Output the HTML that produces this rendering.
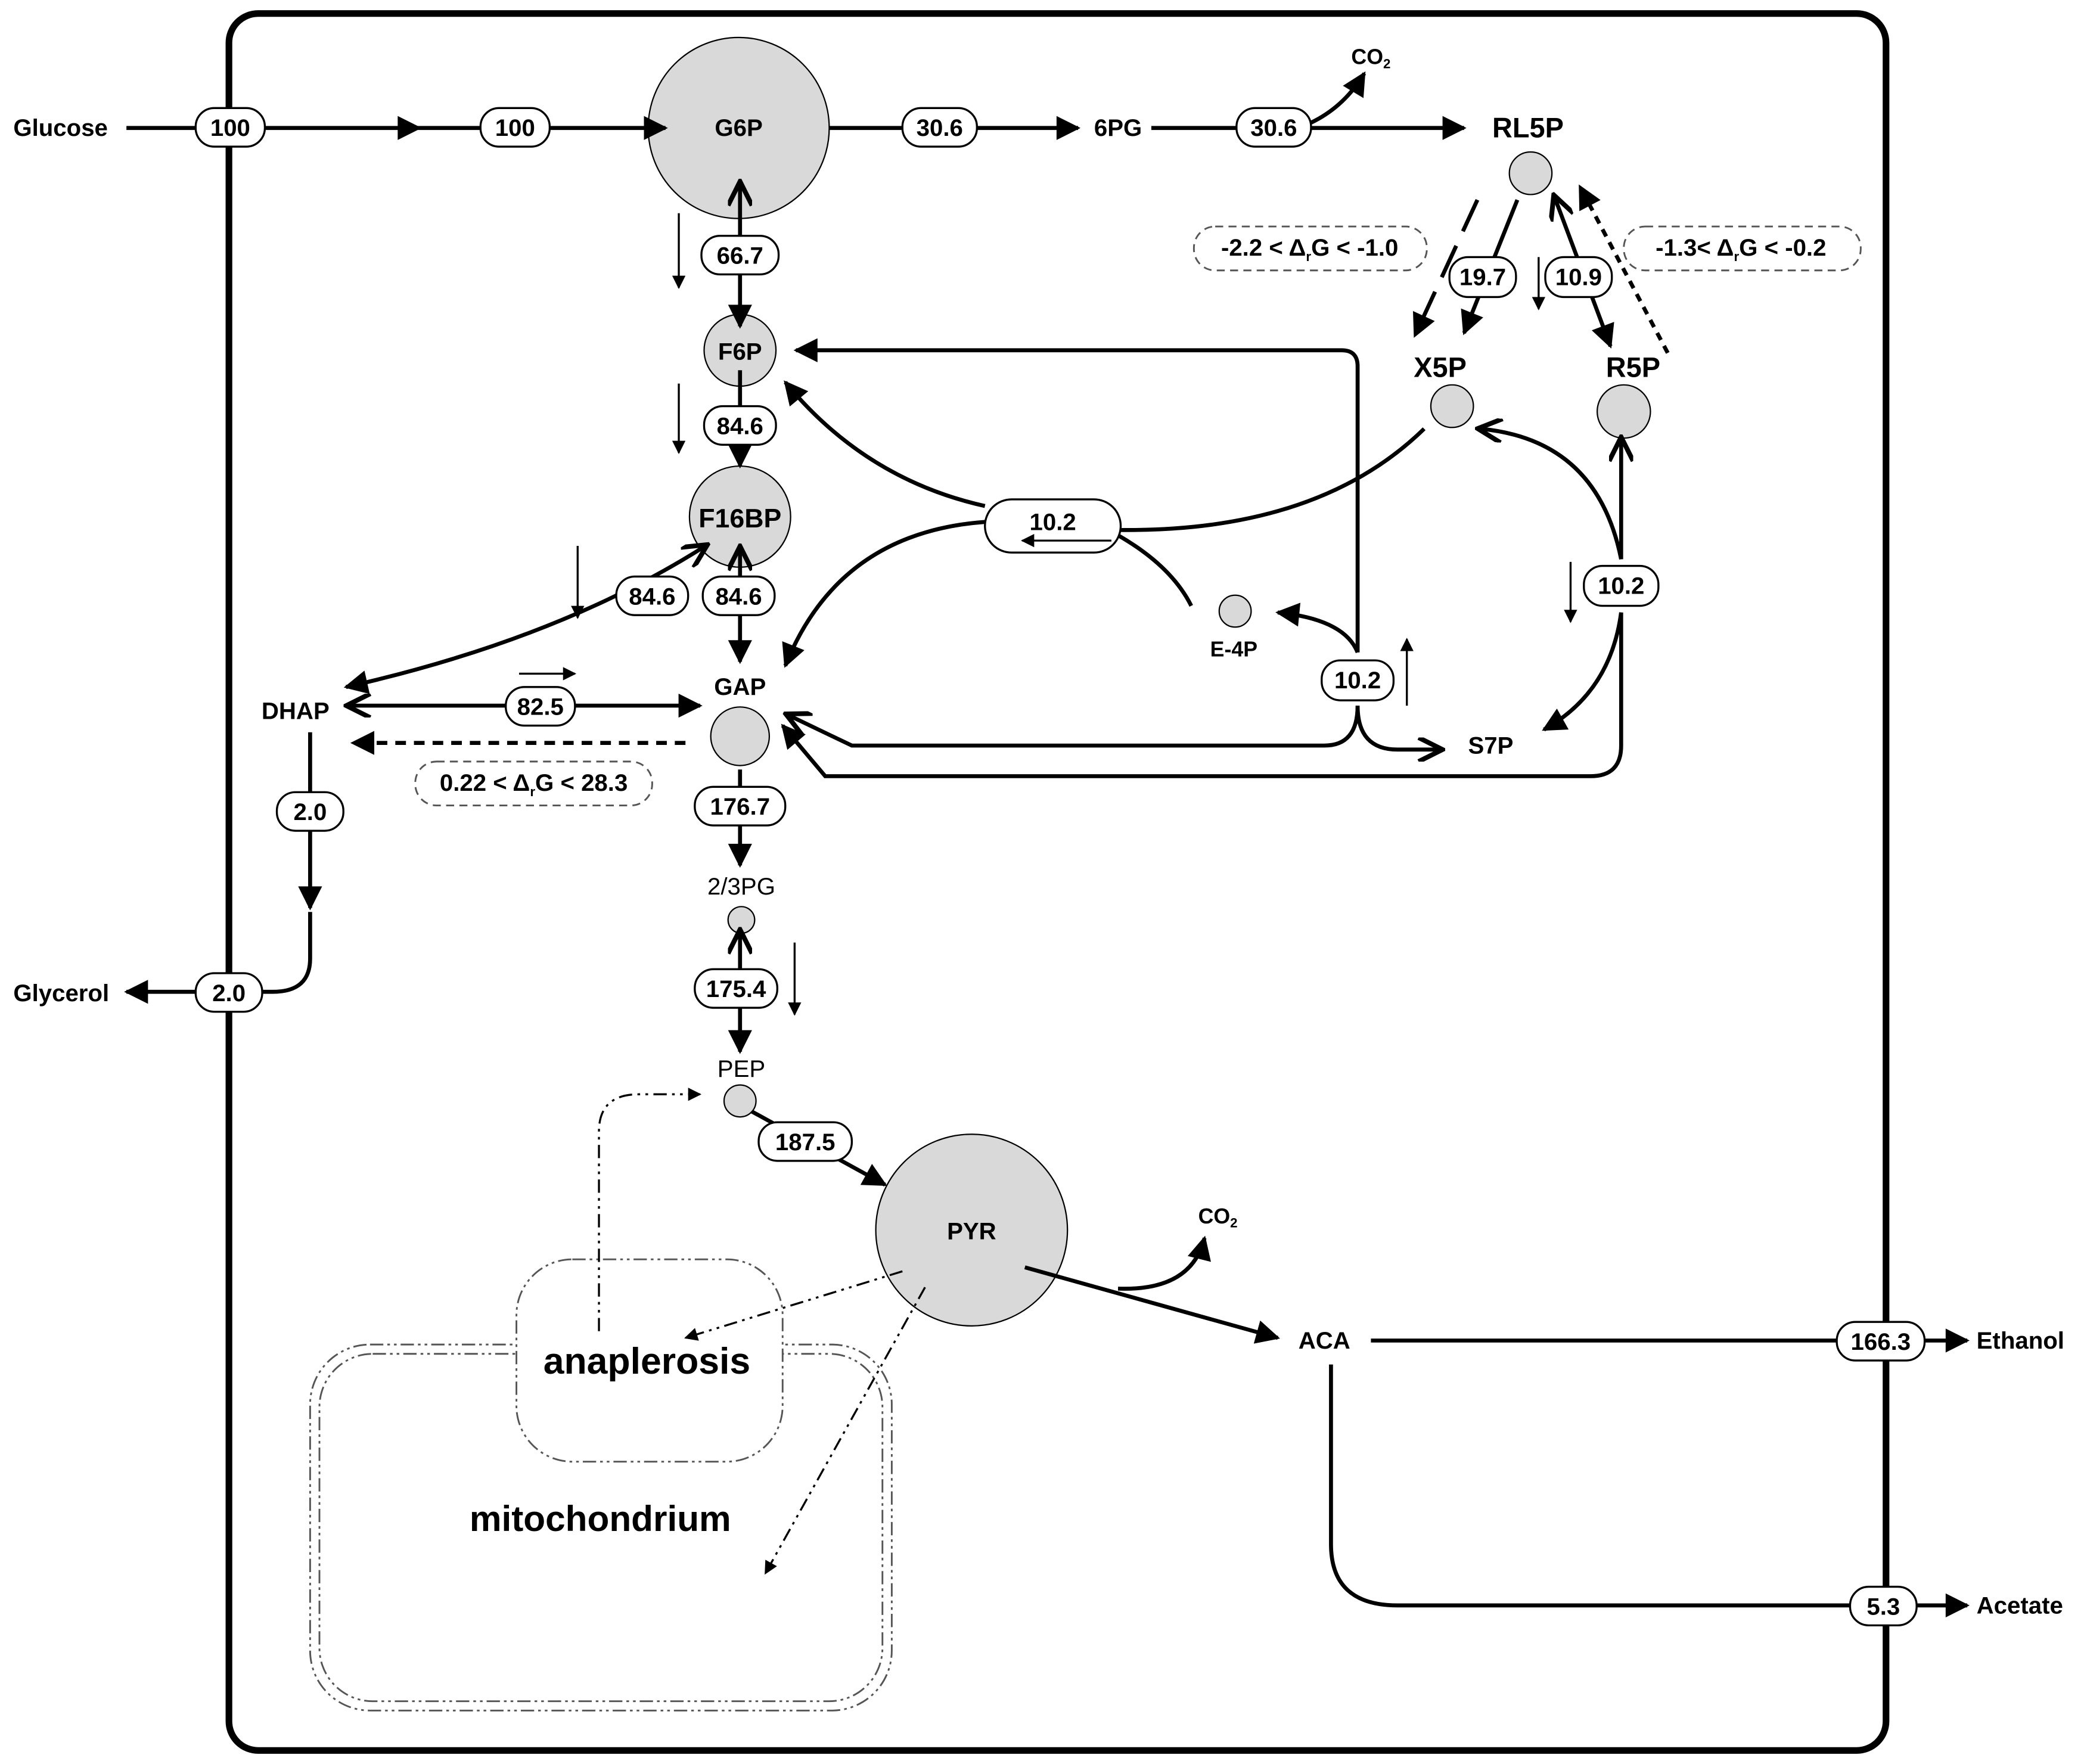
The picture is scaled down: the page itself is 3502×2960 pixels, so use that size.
<!DOCTYPE html>
<html><head><meta charset="utf-8"><style>
html,body{margin:0;padding:0;background:#fff}
svg{display:block}
text{font-family:"Liberation Sans",sans-serif;font-weight:bold;fill:#000}
text.n{font-weight:normal}
</style></head><body>
<svg width="3502" height="2960" viewBox="0 0 1568 1325" xmlns="http://www.w3.org/2000/svg">
<defs>
<marker id="A" viewBox="0 0 10 10" refX="9" refY="5" markerWidth="22" markerHeight="18" orient="auto-start-reverse" markerUnits="userSpaceOnUse"><path d="M0,0 L10,5 L0,10z"/></marker>
<marker id="O" viewBox="0 0 10 10" refX="9" refY="5" markerWidth="22" markerHeight="18" orient="auto-start-reverse" markerUnits="userSpaceOnUse"><path d="M0,0 L10,5 L0,10" fill="none" stroke="#000" stroke-width="2"/></marker>
<marker id="s" viewBox="0 0 10 10" refX="9" refY="5" markerWidth="12" markerHeight="10" orient="auto" markerUnits="userSpaceOnUse"><path d="M0,0 L10,5 L0,10z"/></marker>
</defs>
<rect x="172" y="10" width="1245" height="1305" rx="22" fill="none" stroke="#000" stroke-width="5"/>

<g fill="none" stroke="#555" stroke-width="1.3" stroke-dasharray="10,3,2,3,2,3">
<rect x="233" y="1010" width="437" height="275" rx="45"/>
<rect x="240" y="1017" width="423" height="261" rx="40"/>
<rect x="388" y="946" width="200" height="152" rx="42" fill="#fff"/>
</g>
<rect x="395" y="1005" width="180" height="35" fill="#fff"/>

<g fill="#d9d9d9" stroke="#000" stroke-width="1">
<circle cx="555" cy="96" r="68"/><circle cx="556" cy="263" r="27"/><circle cx="556" cy="388" r="38"/>
<circle cx="556" cy="553" r="22"/><circle cx="557" cy="691" r="10"/><circle cx="556" cy="827" r="12"/>
<circle cx="730" cy="924" r="72"/><circle cx="1150" cy="130" r="16"/><circle cx="1091" cy="305" r="16"/>
<circle cx="1220" cy="309" r="20"/><circle cx="928" cy="459" r="12"/>
</g>

<g fill="none" stroke="#000" stroke-width="3">
<line x1="95" y1="96" x2="315" y2="96" marker-end="url(#A)"/>
<line x1="315" y1="96" x2="500" y2="96" marker-end="url(#A)"/>
<line x1="623" y1="96" x2="810" y2="96" marker-end="url(#A)"/>
<line x1="865" y1="96" x2="1100" y2="96" marker-end="url(#A)"/>
<path d="M985,92 Q1010,80 1025,55" marker-end="url(#A)"/>
<path d="M1140,150 L1100,250" marker-end="url(#A)"/>
<path d="M1110,150 L1063,252" stroke-dasharray="26,12" marker-end="url(#A)"/>
<path d="M1210,260 L1168,148" marker-start="url(#A)" marker-end="url(#O)"/>
<path d="M1253,265 L1187,140" stroke-dasharray="6,5" marker-end="url(#A)"/>
<line x1="556" y1="245" x2="556" y2="138" marker-start="url(#A)" marker-end="url(#O)"/>
<line x1="556" y1="278" x2="556" y2="350" marker-end="url(#A)"/>
<line x1="556" y1="497" x2="556" y2="412" marker-start="url(#A)" marker-end="url(#O)"/>
<path d="M260,516 Q420,480 530,410" marker-start="url(#A)" marker-end="url(#O)"/>
<line x1="262" y1="530" x2="526" y2="530" marker-start="url(#O)" marker-end="url(#A)"/>
<line x1="515" y1="558" x2="265" y2="558" stroke-dasharray="8,6" marker-end="url(#A)"/>
<line x1="233" y1="550" x2="233" y2="682" marker-end="url(#A)"/>
<path d="M233,685 L233,720 Q233,745 205,745 L95,745" marker-end="url(#A)"/>
<line x1="556" y1="578" x2="556" y2="650" marker-end="url(#A)"/>
<line x1="556" y1="790" x2="556" y2="700" marker-start="url(#A)" marker-end="url(#O)"/>
<line x1="565" y1="835" x2="665" y2="890" marker-end="url(#A)"/>
<line x1="770" y1="952" x2="960" y2="1005" marker-end="url(#A)"/>
<path d="M840,968 Q895,970 905,930" marker-end="url(#A)"/>
<line x1="1030" y1="1007" x2="1478" y2="1007" marker-end="url(#A)"/>
<path d="M1000,1025 L1000,1160 Q1000,1206 1050,1206 L1478,1206" marker-end="url(#A)"/>
<path d="M1020,490 L1020,275 Q1020,263 1008,263 L598,263" marker-end="url(#A)"/>
<path d="M740,380 Q650,360 590,287" marker-end="url(#A)"/>
<path d="M740,392 Q630,400 590,500" marker-end="url(#A)"/>
<path d="M840,398 Q990,400 1070,322"/>
<path d="M840,402 Q880,425 895,455"/>
<path d="M1020,490 Q1010,465 960,460" marker-end="url(#A)"/>
<path d="M1020,530 Q1020,563 1050,563 L1082,563" marker-end="url(#O)"/>
<path d="M1020,530 Q1020,560 995,560 L640,560 L592,537" marker-end="url(#O)"/>
<line x1="1218" y1="420" x2="1218" y2="330" marker-end="url(#O)"/>
<path d="M1218,420 Q1200,330 1112,322" marker-end="url(#O)"/>
<path d="M1218,460 Q1210,520 1160,548" marker-end="url(#A)"/>
<path d="M1218,460 L1218,560 Q1218,583 1195,583 L620,583 L588,545" marker-end="url(#A)"/>
</g>
<g stroke="#000" stroke-width="1.5" fill="none">
<line x1="510" y1="160" x2="510" y2="216" marker-end="url(#s)"/>
<line x1="510" y1="288" x2="510" y2="340" marker-end="url(#s)"/>
<line x1="434" y1="410" x2="434" y2="464" marker-end="url(#s)"/>
<line x1="390" y1="506" x2="432" y2="506" marker-end="url(#s)"/>
<line x1="597" y1="708" x2="597" y2="762" marker-end="url(#s)"/>
<line x1="1156" y1="193" x2="1156" y2="232" marker-end="url(#s)"/>
<line x1="1057" y1="530" x2="1057" y2="480" marker-end="url(#s)"/>
<line x1="1180" y1="422" x2="1180" y2="467" marker-end="url(#s)"/>
</g>
<g fill="none" stroke="#000" stroke-width="1.5" stroke-dasharray="10,4,2,4,2,4">
<path d="M450,1000 L450,850 Q450,822 480,822 L526,822" marker-end="url(#s)"/>
<line x1="678" y1="955" x2="515" y2="1005" marker-end="url(#s)"/>
<line x1="695" y1="967" x2="575" y2="1182" marker-end="url(#s)"/>
</g>

<g fill="#fff" stroke="#000" stroke-width="1.5">
<rect x="147" y="81" width="52" height="29" rx="14"/>
<rect x="361" y="81" width="52" height="29" rx="14"/>
<rect x="678" y="81" width="56" height="29" rx="14"/>
<rect x="929" y="81" width="56" height="29" rx="14"/>
<rect x="527" y="177" width="58" height="29" rx="14"/>
<rect x="529" y="305" width="54" height="29" rx="14"/>
<rect x="463" y="433" width="54" height="29" rx="14"/>
<rect x="528" y="433" width="54" height="29" rx="14"/>
<rect x="380" y="516" width="52" height="29" rx="14"/>
<rect x="208" y="595" width="50" height="29" rx="14"/>
<rect x="147" y="731" width="50" height="29" rx="14"/>
<rect x="522" y="591" width="68" height="29" rx="14"/>
<rect x="522" y="728" width="62" height="29" rx="14"/>
<rect x="570" y="843" width="70" height="29" rx="14"/>
<rect x="1380" y="993" width="66" height="29" rx="14"/>
<rect x="1390" y="1192" width="50" height="29" rx="14"/>
<rect x="1089" y="193" width="50" height="30" rx="14"/>
<rect x="1161" y="193" width="50" height="30" rx="14"/>
<rect x="740" y="375" width="102" height="40" rx="20"/>
<rect x="993" y="496" width="54" height="30" rx="14"/>
<rect x="1190" y="425" width="56" height="30" rx="14"/>
</g>
<line x1="835" y1="406" x2="768" y2="406" stroke="#000" stroke-width="1.5" marker-end="url(#s)"/>
<g fill="#fff" stroke="#555" stroke-width="1.3" stroke-dasharray="6,4">
<rect x="897" y="170" width="175" height="33" rx="16"/>
<rect x="1220" y="170" width="178" height="33" rx="16"/>
<rect x="312" y="572" width="178" height="33" rx="16"/>
</g>

<g font-size="18" text-anchor="middle">
<text x="173" y="102">100</text><text x="387" y="102">100</text>
<text x="706" y="102">30.6</text><text x="957" y="102">30.6</text>
<text x="556" y="198">66.7</text><text x="556" y="326">84.6</text>
<text x="490" y="454">84.6</text><text x="555" y="454">84.6</text>
<text x="406" y="537">82.5</text><text x="233" y="616">2.0</text>
<text x="172" y="752">2.0</text><text x="556" y="612">176.7</text>
<text x="553" y="749">175.4</text><text x="605" y="864">187.5</text>
<text x="1413" y="1014">166.3</text><text x="1415" y="1213">5.3</text>
<text x="1114" y="214">19.7</text><text x="1186" y="214">10.9</text>
<text x="791" y="398">10.2</text><text x="1020" y="517">10.2</text><text x="1218" y="446">10.2</text>
<text x="984" y="192">-2.2 &lt; Δ<tspan font-size="10" dy="4">r</tspan><tspan dy="-4">G &lt; -1.0</tspan></text>
<text x="1308" y="192">-1.3&lt; Δ<tspan font-size="10" dy="4">r</tspan><tspan dy="-4">G &lt; -0.2</tspan></text>
<text x="401" y="594">0.22 &lt; Δ<tspan font-size="10" dy="4">r</tspan><tspan dy="-4">G &lt; 28.3</tspan></text>
</g>
<g font-size="18">
<text x="10" y="102">Glucose</text><text x="10" y="752">Glycerol</text>
<text x="1485" y="1013">Ethanol</text><text x="1485" y="1212">Acetate</text>
</g>
<g font-size="18" text-anchor="middle">
<text x="555" y="102">G6P</text><text x="840" y="102">6PG</text>
<text x="556" y="270">F6P</text><text x="556" y="396" font-size="20">F16BP</text>
<text x="556" y="522">GAP</text><text x="222" y="540">DHAP</text>
<text x="557" y="672" class="n">2/3PG</text><text x="557" y="809" class="n">PEP</text>
<text x="730" y="931">PYR</text><text x="995" y="1013">ACA</text>
<text x="927" y="493" font-size="16">E-4P</text><text x="1120" y="566">S7P</text>
<text x="1030" y="48" font-size="16">CO<tspan font-size="10" dy="3">2</tspan></text>
<text x="915" y="919" font-size="16">CO<tspan font-size="10" dy="3">2</tspan></text>
</g>
<g font-size="21" text-anchor="middle">
<text x="1148" y="103">RL5P</text><text x="1082" y="283">X5P</text><text x="1227" y="283">R5P</text>
</g>
<text x="486" y="1032" font-size="28" text-anchor="middle">anaplerosis</text>
<text x="451" y="1150" font-size="27" text-anchor="middle">mitochondrium</text>
</svg>
</body></html>
